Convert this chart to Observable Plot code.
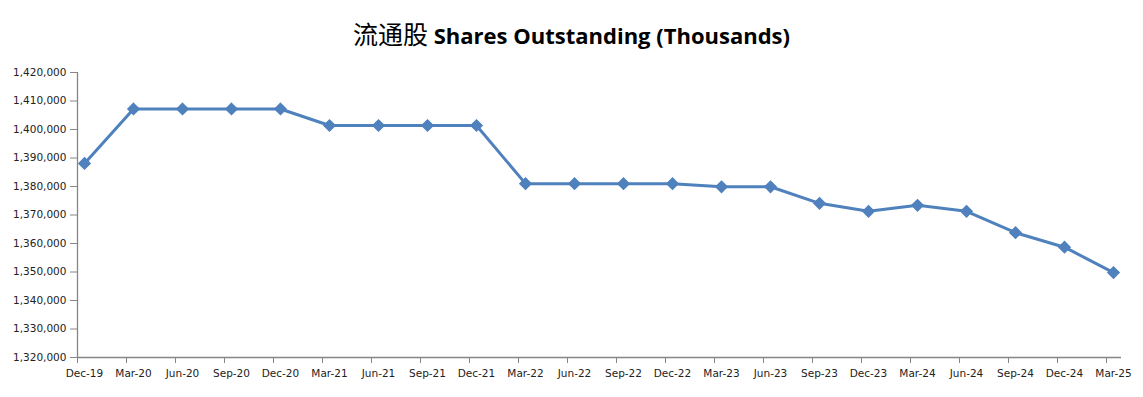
<!DOCTYPE html>
<html>
<head>
<meta charset="utf-8">
<script src="https://cdn.jsdelivr.net/npm/d3@7"></script>
<script src="https://cdn.jsdelivr.net/npm/@observablehq/plot@0.6"></script>
<style>
  body { margin: 0; background: #fff; width: 1143px; }
  #title { height: 60px; box-sizing: border-box; padding-top: 18px; text-align: center;
    font-family: "Open Sans", "Noto Sans CJK SC", sans-serif; font-weight: bold; font-size: 22px; line-height: 30px; color: #000; }
  #title .cjk { font-family: "Noto Sans CJK SC", sans-serif; font-weight: normal; font-size: 25px; }
</style>
</head>
<body>
<div id="title"><span class="cjk">流通股</span> Shares Outstanding (Thousands)</div>
<div id="chart"></div>
<script>
const quarters = ["Dec-19","Mar-20","Jun-20","Sep-20","Dec-20","Mar-21","Jun-21","Sep-21","Dec-21",
  "Mar-22","Jun-22","Sep-22","Dec-22","Mar-23","Jun-23","Sep-23","Dec-23","Mar-24","Jun-24",
  "Sep-24","Dec-24","Mar-25"];
const shares = [1388100, 1407200, 1407200, 1407200, 1407200, 1401400, 1401400, 1401400, 1401400,
  1381000, 1381000, 1381000, 1381000, 1379900, 1379900, 1374100, 1371300, 1373400, 1371300,
  1363800, 1358700, 1349800];
const yTicks = [1320000, 1330000, 1340000, 1350000, 1360000, 1370000, 1380000, 1390000, 1400000, 1410000, 1420000];

const data = quarters.map((q, i) => ({q, v: shares[i]}));
const color = "#4F81BD";
const axisColor = "#868686";
const font = "DejaVu Sans, sans-serif";

const chart = Plot.plot({
  width: 1143,
  height: 337,
  marginTop: 12,
  marginBottom: 40,
  marginLeft: 77,
  marginRight: 22,
  style: {fontFamily: font, fontSize: "10.5px", color: "#222", background: "#fff"},
  x: {type: "point", domain: quarters, range: [84, 1113], padding: 0, round: false},
  y: {domain: [1320000, 1420000], label: null},
  marks: [
    Plot.ruleY([1320000], {stroke: axisColor, strokeWidth: 1.3}),
    Plot.axisY({ticks: yTicks, tickFormat: d3.format(","), tickSize: 7, tickPadding: 4, stroke: axisColor, label: null, fill: "#222"}),
    Plot.axisX({tickSize: 6, tickFormat: () => "", dx: -7, stroke: axisColor, label: null}),
    Plot.axisX({tickSize: 0, tickPadding: 12, label: null, fill: "#222"}),
    Plot.line(data, {x: "q", y: "v", stroke: color, strokeWidth: 3}),
    Plot.dot(data, {x: "q", y: "v", symbol: "diamond2", r: 5, fill: color, stroke: color})
  ]
});
document.getElementById("chart").appendChild(chart);

// vertical y axis line along the left frame edge
const svg = d3.select(chart);
svg.append("line")
  .attr("x1", 77.5).attr("x2", 77.5)
  .attr("y1", 12).attr("y2", 297)
  .attr("stroke", axisColor).attr("stroke-width", 1.3);
</script>
</body>
</html>
